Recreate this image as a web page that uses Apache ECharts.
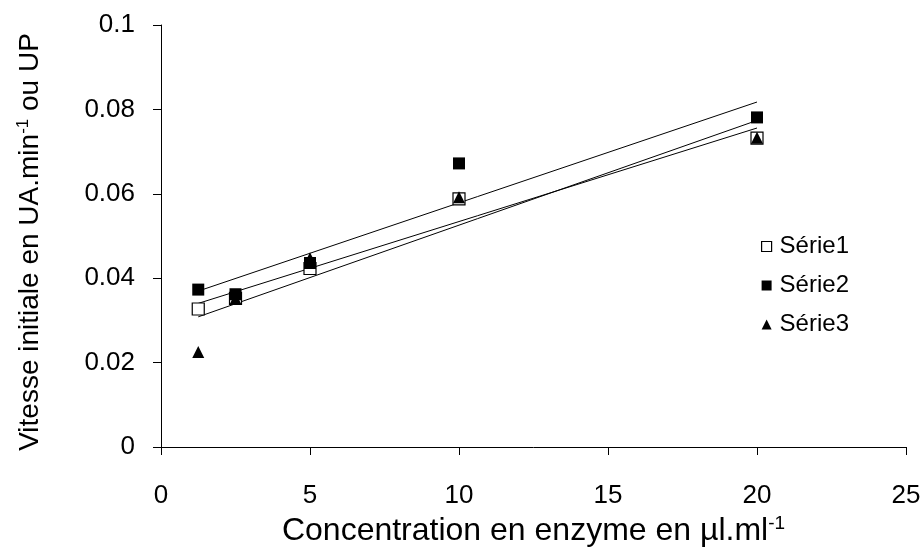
<!DOCTYPE html>
<html>
<head>
<meta charset="utf-8">
<script src="https://cdn.jsdelivr.net/npm/echarts@6/dist/echarts.min.js"></script>
<style>
  html, body { margin: 0; padding: 0; background: #fff; }
  #chart { width: 923px; height: 547px; }
</style>
</head>
<body>
<div id="chart"></div>
<script>
// Enzyme concentration (µl/ml) and initial rates for three replicate series
const concentrations = [1.25, 2.5, 5, 10, 20];
const serie1 = [0.0327, 0.0352, 0.0423, 0.0588, 0.0732];
const serie2 = [0.0373, 0.0362, 0.0436, 0.0672, 0.0781];
const serie3 = [0.0225, 0.0352, 0.0447, 0.0592, 0.0733];
const seriesNames = ['Série1', 'Série2', 'Série3'];
const xTicks = [0, 5, 10, 15, 20, 25];
const yTicks = [0, 0.02, 0.04, 0.06, 0.08, 0.1];

const FONT = '"Liberation Sans", Arial, sans-serif';

// Least-squares linear trend line, evaluated at the first and last concentration
function trend(xs, ys) {
  const n = xs.length;
  const mx = xs.reduce((a, b) => a + b, 0) / n;
  const my = ys.reduce((a, b) => a + b, 0) / n;
  let sxy = 0, sxx = 0;
  for (let i = 0; i < n; i++) {
    sxy += (xs[i] - mx) * (ys[i] - my);
    sxx += (xs[i] - mx) * (xs[i] - mx);
  }
  const slope = sxy / sxx;
  const icpt = my - slope * mx;
  const x0 = xs[0], x1 = xs[n - 1];
  return [[x0, icpt + slope * x0], [x1, icpt + slope * x1]];
}

const pairs = ys => concentrations.map((x, i) => [x, ys[i]]);

const trendSeries = [serie1, serie2, serie3].map((ys, i) => ({
  name: 'trend' + (i + 1),
  type: 'line',
  data: trend(concentrations, ys),
  symbol: 'none',
  lineStyle: { color: '#000', width: 1 },
  silent: true,
  z: 1
}));

const chart = echarts.init(document.getElementById('chart'), null, { renderer: 'canvas' });

chart.setOption({
  animation: false,
  backgroundColor: '#fff',
  textStyle: { fontFamily: FONT, color: '#000' },
  grid: { left: 161, right: 17, top: 25, bottom: 100, containLabel: false, outerBoundsMode: 'none' },
  legend: {
    orient: 'vertical',
    left: 756,
    top: 229,
    itemGap: 14,
    itemWidth: 10,
    itemHeight: 10,
    textStyle: { fontFamily: FONT, fontSize: 24, lineHeight: 25, color: '#000', padding: [0, 0, 0, 3] },
    data: [
      { name: seriesNames[0], icon: 'rect', itemStyle: { color: '#fff', borderColor: '#000', borderWidth: 1.2 } },
      { name: seriesNames[1], icon: 'rect' },
      { name: seriesNames[2], icon: 'triangle' }
    ]
  },
  xAxis: {
    type: 'value',
    min: xTicks[0],
    max: xTicks[xTicks.length - 1],
    interval: 5,
    name: '{a|Concentration en enzyme en µl.ml}{s|-1}',
    nameLocation: 'middle',
    nameGap: 62,
    nameTextStyle: {
      rich: {
        a: { fontFamily: FONT, fontSize: 32, color: '#000', lineHeight: 34 },
        s: { fontFamily: FONT, fontSize: 19, color: '#000', verticalAlign: 'top', lineHeight: 34 }
      }
    },
    axisLine: { onZero: false, lineStyle: { color: '#000', width: 1 } },
    axisTick: { show: true, length: 8, lineStyle: { color: '#000' } },
    axisLabel: { fontFamily: FONT, fontSize: 26, lineHeight: 26, color: '#000', margin: 36 },
    splitLine: { show: false }
  },
  yAxis: {
    type: 'value',
    min: yTicks[0],
    max: yTicks[yTicks.length - 1],
    interval: 0.02,
    name: '{a|Vitesse initiale en UA.min}{s|-1}{a| ou UP}',
    nameLocation: 'middle',
    nameRotate: 90,
    nameGap: 116,
    nameTextStyle: {
      padding: [0, 12, 0, 0],
      rich: {
        a: { fontFamily: FONT, fontSize: 28, color: '#000', lineHeight: 30 },
        s: { fontFamily: FONT, fontSize: 17, color: '#000', verticalAlign: 'top', lineHeight: 30 }
      }
    },
    axisLine: { show: true, onZero: false, lineStyle: { color: '#000', width: 1 } },
    axisTick: { show: true, length: 8, lineStyle: { color: '#000' } },
    axisLabel: {
      fontFamily: FONT, fontSize: 26, color: '#000', margin: 26,
      formatter: v => String(+v.toFixed(2))
    },
    splitLine: { show: false }
  },
  series: [
    ...trendSeries,
    {
      name: seriesNames[0],
      type: 'scatter',
      data: pairs(serie1),
      symbol: 'rect',
      symbolSize: 12,
      itemStyle: { color: '#fff', borderColor: '#000', borderWidth: 1.2, opacity: 1 },
      z: 3
    },
    {
      name: seriesNames[1],
      type: 'scatter',
      data: pairs(serie2),
      symbol: 'rect',
      symbolSize: 12,
      itemStyle: { color: '#000', opacity: 1 },
      z: 4
    },
    {
      name: seriesNames[2],
      type: 'scatter',
      data: pairs(serie3),
      symbol: 'triangle',
      symbolSize: 12,
      itemStyle: { color: '#000', opacity: 1 },
      z: 5
    }
  ]
});
</script>
</body>
</html>
